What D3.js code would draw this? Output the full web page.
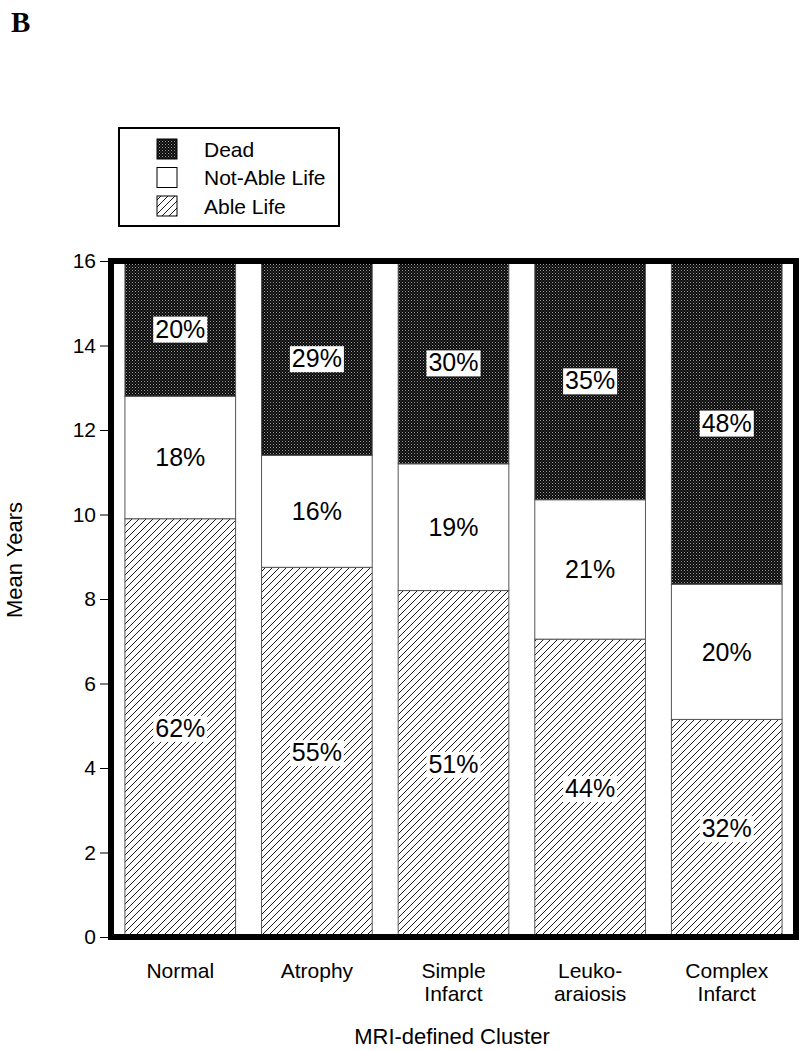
<!DOCTYPE html>
<html lang="en">
<head>
    <meta charset="UTF-8">
    <title>MRI-defined Cluster - Mean Years</title>
    <script src="https://d3js.org/d3.v7.min.js"></script>
    <style>
        body { margin: 0; background: #fff; }
        svg { display: block; font-family: "Liberation Sans", Arial, sans-serif; }
    </style>
</head>
<body>
    <svg width="799" height="1050"></svg>

    <script>
        // data (mean years out of 16)
        const clusters = [["Normal"], ["Atrophy"], ["Simple", "Infarct"], ["Leuko-", "araiosis"], ["Complex", "Infarct"]];
        const ableLife = [9.9, 8.75, 8.2, 7.05, 5.15];
        const notAbleLife = [2.9, 2.65, 3.0, 3.3, 3.2];
        const total = 16;
        const ablePct = ["62%", "55%", "51%", "44%", "32%"];
        const notAblePct = ["18%", "16%", "19%", "21%", "20%"];
        const deadPct = ["20%", "29%", "30%", "35%", "48%"];
        const yTicks = [0, 2, 4, 6, 8, 10, 12, 14, 16];
        const legendItems = ["Dead", "Not-Able Life", "Able Life"];

        const svg = d3.select("svg");
        const defs = svg.append("defs");

        // dotted dark fill for "Dead"
        const dots = defs.append("pattern").attr("id", "dead")
            .attr("patternUnits", "userSpaceOnUse").attr("width", 3).attr("height", 3);
        dots.append("rect").attr("width", 3).attr("height", 3).attr("fill", "#0a0a0a");
        dots.append("rect").attr("width", 1).attr("height", 1).attr("fill", "#9a9a9a");
        dots.append("rect").attr("x", 1.5).attr("y", 1.5).attr("width", 1).attr("height", 1).attr("fill", "#6a6a6a");

        // diagonal hatch for "Able Life"
        const hatch = defs.append("pattern").attr("id", "able")
            .attr("patternUnits", "userSpaceOnUse").attr("width", 7).attr("height", 7);
        hatch.append("rect").attr("width", 7).attr("height", 7).attr("fill", "#fff");
        hatch.append("path")
            .attr("d", "M-1,1 l2,-2 M0,7 l7,-7 M6,8 l2,-2")
            .attr("stroke", "#000").attr("stroke-width", 0.9);

        const x = d3.scaleBand()
            .domain(d3.range(clusters.length))
            .range([114, 793])
            .paddingInner(0.19)
            .paddingOuter(0.08);

        const y = d3.scaleLinear().domain([0, total]).range([937, 261]);

        const rows = clusters.map((c, i) => ({
            i,
            segs: [
                { y0: 0, y1: ableLife[i], label: ablePct[i], fill: "url(#able)", box: true },
                { y0: ableLife[i], y1: ableLife[i] + notAbleLife[i], label: notAblePct[i], fill: "#fff", box: false },
                { y0: ableLife[i] + notAbleLife[i], y1: total, label: deadPct[i], fill: "url(#dead)", box: true }
            ]
        }));

        const bars = svg.append("g");
        rows.forEach(r => {
            r.segs.forEach(s => {
                bars.append("rect")
                    .attr("x", x(r.i))
                    .attr("y", y(s.y1))
                    .attr("width", x.bandwidth())
                    .attr("height", y(s.y0) - y(s.y1))
                    .attr("fill", s.fill)
                    .attr("stroke", "#555")
                    .attr("stroke-width", 1);
            });
        });

        // percentage labels, white box behind the patterned ones
        const labels = svg.append("g");
        rows.forEach(r => {
            r.segs.forEach(s => {
                const cx = x(r.i) + x.bandwidth() / 2;
                const cy = y((s.y0 + s.y1) / 2);
                const g = labels.append("g");
                const t = g.append("text")
                    .attr("x", cx).attr("y", cy)
                    .attr("text-anchor", "middle")
                    .attr("dy", "0.36em")
                    .attr("font-size", 25)
                    .text(s.label);
                if (s.box) {
                    const bb = t.node().getBBox();
                    g.insert("rect", "text")
                        .attr("x", bb.x - 2).attr("y", bb.y + 2)
                        .attr("width", bb.width + 4).attr("height", bb.height - 2)
                        .attr("fill", "#fff");
                }
            });
        });

        // heavy frame
        svg.append("rect")
            .attr("x", 111).attr("y", 261)
            .attr("width", 685).attr("height", 676)
            .attr("fill", "none")
            .attr("stroke", "#000")
            .attr("stroke-width", 6);

        // y axis
        const yAxis = svg.append("g")
            .attr("transform", "translate(108,0)")
            .call(d3.axisLeft(y).tickValues(yTicks).tickSize(8).tickPadding(4));
        yAxis.select(".domain").remove();
        yAxis.selectAll(".tick line").attr("stroke", "#000").attr("stroke-width", 1);
        yAxis.selectAll(".tick text")
            .style("font-family", "'Liberation Sans', Arial, sans-serif")
            .style("font-size", "21px").attr("fill", "#000");

        svg.append("text")
            .attr("transform", "translate(22,560) rotate(-90)")
            .attr("text-anchor", "middle")
            .attr("font-size", 22)
            .text("Mean Years");

        // x category labels
        const xl = svg.append("g");
        clusters.forEach((lines, i) => {
            const t = xl.append("text")
                .attr("x", x(i) + x.bandwidth() / 2)
                .attr("y", 978)
                .attr("text-anchor", "middle")
                .attr("font-size", 21);
            lines.forEach((ln, k) => {
                t.append("tspan")
                    .attr("x", x(i) + x.bandwidth() / 2)
                    .attr("dy", k === 0 ? 0 : 23)
                    .text(ln);
            });
        });

        svg.append("text")
            .attr("x", 452).attr("y", 1044)
            .attr("text-anchor", "middle")
            .attr("font-size", 22)
            .text("MRI-defined Cluster");

        // legend
        const legend = svg.append("g");
        legend.append("rect")
            .attr("x", 119).attr("y", 128)
            .attr("width", 220).attr("height", 98)
            .attr("fill", "#fff")
            .attr("stroke", "#000").attr("stroke-width", 2);
        const swFill = ["url(#dead)", "#fff", "url(#able)"];
        legendItems.forEach((name, i) => {
            const cy = 149 + i * 28.5;
            legend.append("rect")
                .attr("x", 157).attr("y", cy - 10)
                .attr("width", 20).attr("height", 20)
                .attr("fill", swFill[i])
                .attr("stroke", "#000").attr("stroke-width", 1);
            legend.append("text")
                .attr("x", 204).attr("y", cy)
                .attr("dy", "0.36em")
                .attr("font-size", 21)
                .text(name);
        });

        // panel letter
        svg.append("text")
            .attr("x", 11).attr("y", 32)
            .style("font-family", "'Liberation Serif', 'Times New Roman', serif")
            .style("font-weight", "bold")
            .style("font-size", "29px")
            .text("B");
    </script>
</body>
</html>
